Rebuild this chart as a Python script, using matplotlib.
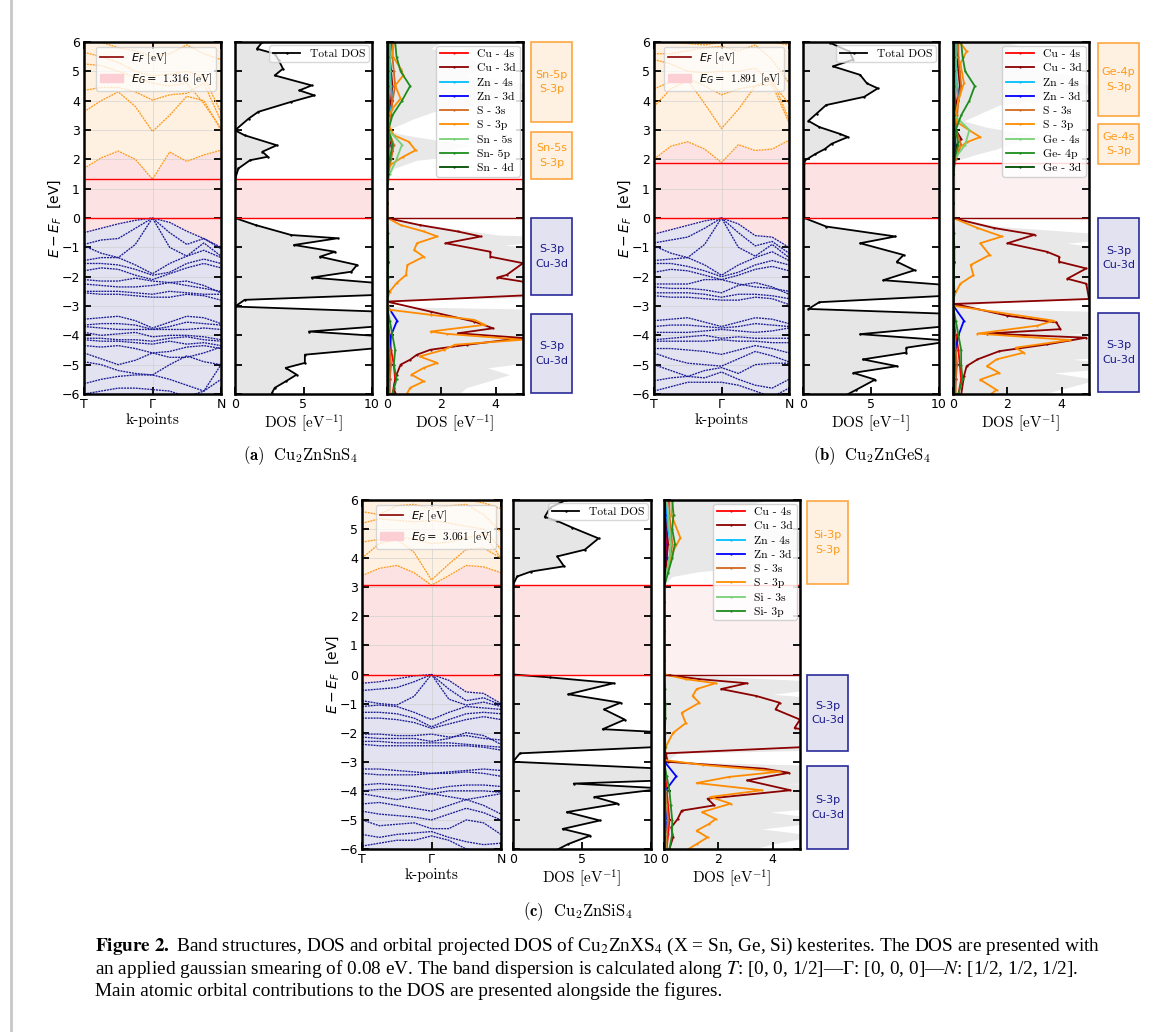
import numpy as np
import matplotlib
matplotlib.use("Agg")
import matplotlib.pyplot as plt
from matplotlib.lines import Line2D
from matplotlib.patches import Patch, Rectangle

W, H = 1155, 1032

# k-path positions: T, Gamma, N
kpts = [0, 0.25, 0.5, 0.75, 1.0, 1.25, 1.5, 1.75, 2.0]
klabels = ['T', 'Γ', 'N']

# grid of energies for the small orbital contributions
e_grid = [-6, -5.5, -5, -4.5, -4, -3.5, -3, -2.5, -2, -1.5, -1, -0.5, 0,
          0.5, 1, 1.5, 2, 2.5, 3, 3.5, 4, 4.5, 5, 5.5, 6]

# ---------------- (a) Cu2ZnSnS4 ----------------
eg_a = 1.316
cb_a = [
    [1.69, 2.05, 2.28, 2.0, 1.32, 2.25, 1.93, 2.15, 2.31],
    [3.62, 4.0, 4.3, 3.8, 2.95, 3.5, 4.15, 4.0, 3.0],
    [4.35, 4.45, 4.45, 4.3, 4.02, 4.2, 4.25, 4.6, 3.3],
    [5.25, 5.2, 5.0, 4.8, 4.6, 4.5, 4.6, 3.9, 3.05],
    [5.65, 5.5, 5.3, 5.0, 4.85, 4.9, 5.0, 4.8, 3.6],
    [6.2, 6.0, 5.8, 5.7, 5.5, 5.6, 5.9, 5.6, 5.4],
]
vb_a = [
    [-0.5, -0.35, -0.2, -0.08, 0.0, -0.15, -0.45, -0.7, -1.0],
    [-0.9, -0.75, -0.7, -0.35, 0.0, -0.5, -0.9, -0.7, -1.05],
    [-0.95, -1.2, -1.35, -0.9, 0.0, -1.0, -1.3, -0.85, -1.3],
    [-1.45, -1.35, -1.35, -1.6, -1.9, -1.55, -1.3, -1.1, -1.35],
    [-1.55, -1.55, -1.6, -1.75, -1.95, -1.85, -1.55, -1.4, -1.55],
    [-1.8, -1.7, -1.75, -1.95, -2.1, -1.9, -1.7, -1.55, -1.7],
    [-2.1, -2.15, -2.15, -2.05, -2.15, -2.2, -2.3, -2.4, -2.5],
    [-2.25, -2.3, -2.35, -2.35, -2.3, -2.2, -2.15, -2.3, -2.55],
    [-2.5, -2.5, -2.5, -2.55, -2.6, -2.5, -2.55, -2.6, -2.6],
    [-2.55, -2.6, -2.6, -2.65, -2.7, -2.7, -2.6, -2.65, -2.8],
    [-3.45, -3.4, -3.35, -3.5, -3.75, -3.55, -3.35, -3.4, -3.6],
    [-3.65, -3.6, -3.6, -3.65, -3.8, -3.7, -3.55, -3.6, -3.65],
    [-3.7, -3.75, -3.8, -3.8, -3.8, -3.8, -3.8, -3.75, -3.8],
    [-3.9, -4.0, -3.95, -3.9, -4.05, -4.0, -4.0, -4.05, -4.15],
    [-4.1, -4.1, -4.15, -4.15, -4.2, -4.1, -4.05, -4.15, -4.2],
    [-4.15, -4.2, -4.2, -4.25, -4.3, -4.2, -4.3, -4.25, -4.35],
    [-4.35, -4.4, -4.35, -4.45, -4.6, -4.55, -4.4, -4.35, -4.45],
    [-4.6, -4.8, -5.0, -4.85, -4.6, -4.75, -4.75, -4.6, -4.4],
    [-4.9, -5.0, -5.2, -5.3, -5.35, -5.0, -4.7, -4.9, -5.0],
    [-5.65, -5.5, -5.4, -5.35, -5.35, -5.5, -5.7, -5.9, -5.0],
    [-6.0, -5.9, -5.8, -5.8, -5.85, -5.9, -6.1, -5.9, -5.5],
]
tdos_e_a = [-5.96, -5.79, -5.57, -5.34, -5.11, -4.94, -4.66, -4.43, -4.04, -3.87, -3.64,
            -3.19, -3.02, -2.79, -2.62, -2.22, -2.03, -1.83, -1.6, -1.32, -1.15, -0.92,
            -0.69, -0.58, -0.24, 0.0, 1.32, 1.69, 1.97, 2.09, 2.26, 2.48, 2.82, 2.99,
            3.39, 3.62, 3.96, 4.18, 4.35, 4.52, 4.86, 5.09, 5.37, 5.6, 5.77, 6.0]
tdos_a = [2.7, 2.9, 3.7, 4.5, 3.7, 5.1, 5.1, 10.5, 11, 5.4, 12,
          10.5, 0.0, 0.7, 10.5, 10.5, 5.6, 8.5, 8.9, 6.2, 7.3, 4.3,
          7.5, 4.1, 1.5, 0.0, 0.0, 0.25, 1.1, 2.4, 2.0, 3.05, 0.7, 0.0,
          1.0, 1.7, 4.1, 5.8, 4.7, 5.6, 2.9, 3.5, 3.2, 2.9, 1.6, 2.0]
s3p_e_a = [-5.96, -5.79, -5.57, -5.34, -5.11, -4.94, -4.72, -4.49, -4.32, -4.15, -3.95,
           -3.87, -3.64, -3.47, -3.3, -3.13, -2.85, -2.51, -2.22, -1.94, -1.6, -1.32,
           -1.09, -0.86, -0.63, -0.46, -0.24, 0.0, 1.46, 1.8, 2.09, 2.31, 2.6, 2.82,
           3.28, 3.73, 4.07, 4.52, 4.86, 5.09, 5.54, 6.0]
s3p_a = [0.75, 0.85, 1.35, 0.9, 1.35, 1.85, 1.2, 2.1, 2.5, 5.0, 2.2,
         1.6, 3.6, 3.2, 1.6, 0.1, 0.0, 0.1, 0.35, 0.7, 0.75, 1.35,
         1.0, 1.1, 1.85, 1.35, 0.5, 0.02, 0.0, 0.1, 0.6, 1.05, 0.8, 0.25,
         0.0, 0.2, 0.5, 0.3, 0.6, 0.5, 0.2, 0.25]
cu3d_e_a = [-5.96, -5.79, -5.34, -5.0, -4.83, -4.66, -4.49, -4.32, -4.09, -3.93, -3.76,
            -3.53, -3.19, -2.85, -2.62, -2.17, -2.03, -1.94, -1.54, -1.32, -1.15, -0.86,
            -0.63, -0.46, -0.24, 0.0, 1.5, 2.0, 2.3, 2.6, 3.0, 3.5, 4.0, 4.5, 5.0, 5.5, 6.0]
cu3d_a = [0.3, 0.25, 0.35, 0.5, 0.85, 1.1, 1.6, 2.95, 5.0, 2.6, 3.9,
          3.2, 1.6, 0.0, 5.5, 5.0, 4.05, 4.4, 5.0, 3.8, 3.8, 2.15,
          3.45, 2.6, 1.2, 0.0, 0.0, 0.1, 0.2, 0.1, 0.02, 0.05, 0.15, 0.2, 0.15, 0.1, 0.15]
cu4s_a = [0.2, 0.3, 0.25, 0.15, 0.1, 0.02, 0, 0.01, 0.02, 0.02, 0.01, 0.01, 0,
          0, 0, 0.02, 0.05, 0.05, 0.02, 0.05, 0.08, 0.1, 0.1, 0.1, 0.15]
zn4s_a = [0.05, 0.05, 0.05, 0.03, 0.02, 0.02, 0, 0.01, 0.01, 0.01, 0.01, 0, 0,
          0, 0, 0.02, 0.05, 0.08, 0.03, 0.1, 0.2, 0.15, 0.12, 0.1, 0.1]
zn3d_a = [0.08, 0.1, 0.12, 0.1, 0.15, 0.37, 0.02, 0.03, 0.02, 0.02, 0.02, 0.01, 0,
          0, 0, 0.01, 0.02, 0.02, 0.01, 0.03, 0.05, 0.05, 0.05, 0.05, 0.05]
s3s_a = [0.1, 0.1, 0.15, 0.1, 0.05, 0.02, 0, 0.01, 0.02, 0.02, 0.02, 0.01, 0,
         0, 0, 0.05, 0.15, 0.25, 0.05, 0.15, 0.2, 0.3, 0.25, 0.2, 0.2]
xs_a = [0.05, 0.05, 0.05, 0.05, 0.05, 0.02, 0, 0.01, 0.01, 0.01, 0.01, 0, 0,
        0, 0, 0.1, 0.35, 0.55, 0.05, 0.05, 0.05, 0.1, 0.1, 0.1, 0.1]
xp_a = [0.2, 0.35, 0.25, 0.3, 0.2, 0.1, 0, 0.05, 0.03, 0.05, 0.05, 0.02, 0,
        0, 0, 0.05, 0.1, 0.2, 0.05, 0.2, 0.55, 0.85, 0.5, 0.35, 0.3]
xd_a = [0.05, 0.05, 0.05, 0.05, 0.05, 0.05, 0, 0.02, 0.02, 0.02, 0.02, 0.01, 0,
        0, 0, 0.02, 0.05, 0.05, 0.02, 0.05, 0.05, 0.05, 0.05, 0.05, 0.05]
labels_a = ['Cu - 4s', 'Cu - 3d', 'Zn - 4s', 'Zn - 3d', 'S - 3s', 'S - 3p',
            'Sn - 5s', 'Sn- 5p', 'Sn - 4d']
boxes_a = [(3.27, 6.0), (1.33, 2.93), (-2.63, 0.0), (-5.97, -3.27)]
boxtext_a = ['Sn-5p\nS-3p', 'Sn-5s\nS-3p', 'S-3p\nCu-3d', 'S-3p\nCu-3d']

# ---------------- (b) Cu2ZnGeS4 ----------------
eg_b = 1.891
cb_b = [
    [2.0, 2.45, 2.6, 2.35, 1.89, 2.5, 2.3, 2.35, 2.65],
    [3.8, 4.4, 4.7, 3.9, 3.05, 3.7, 4.5, 4.55, 3.25],
    [4.4, 4.65, 4.75, 4.5, 4.2, 4.4, 4.5, 4.75, 3.35],
    [5.4, 5.25, 5.0, 4.95, 5.0, 5.0, 5.1, 4.6, 3.9],
    [5.6, 5.6, 5.7, 5.8, 5.85, 5.7, 5.9, 5.4, 4.6],
    [6.1, 6.0, 5.95, 5.9, 6.0, 6.1, 6.2, 6.0, 5.9],
]
vb_b = [
    [-0.55, -0.4, -0.25, -0.1, 0.0, -0.2, -0.6, -0.65, -1.0],
    [-0.85, -0.75, -0.65, -0.35, 0.0, -0.5, -0.95, -0.8, -1.2],
    [-0.95, -1.2, -1.35, -0.9, 0.0, -1.0, -1.3, -0.9, -1.35],
    [-1.45, -1.4, -1.35, -1.6, -1.95, -1.6, -1.35, -1.15, -1.45],
    [-1.55, -1.55, -1.65, -1.8, -2.0, -1.85, -1.6, -1.45, -1.6],
    [-1.85, -1.75, -1.8, -1.95, -2.1, -1.95, -1.75, -1.65, -1.8],
    [-2.25, -2.25, -2.25, -2.1, -2.1, -2.25, -2.35, -2.4, -2.5],
    [-2.35, -2.4, -2.4, -2.45, -2.55, -2.3, -2.2, -2.35, -2.6],
    [-2.55, -2.55, -2.55, -2.6, -2.7, -2.6, -2.6, -2.65, -2.75],
    [-2.65, -2.7, -2.7, -2.75, -2.8, -2.8, -2.7, -2.75, -2.95],
    [-3.5, -3.45, -3.4, -3.55, -3.7, -3.55, -3.4, -3.45, -3.6],
    [-3.7, -3.65, -3.65, -3.7, -3.75, -3.7, -3.6, -3.65, -3.7],
    [-3.9, -3.9, -3.9, -3.85, -3.8, -3.85, -3.9, -3.85, -3.75],
    [-4.15, -4.1, -4.05, -4.0, -4.1, -4.05, -4.1, -4.1, -4.1],
    [-4.2, -4.2, -4.2, -4.2, -4.15, -4.2, -4.2, -4.25, -4.25],
    [-4.45, -4.45, -4.5, -4.55, -4.65, -4.5, -4.35, -4.45, -4.6],
    [-4.6, -4.8, -4.95, -5.0, -5.05, -4.8, -4.55, -4.7, -4.9],
    [-5.0, -5.2, -5.4, -5.2, -5.1, -5.3, -5.0, -4.95, -4.95],
    [-5.55, -5.45, -5.4, -5.45, -5.25, -5.5, -5.7, -5.8, -5.5],
    [-5.9, -5.75, -5.6, -5.6, -5.6, -5.7, -5.9, -6.1, -5.8],
]
tdos_e_b = [-6.03, -5.86, -5.51, -5.28, -5.05, -4.82, -4.59, -4.42, -4.19, -3.96, -3.67,
            -3.27, -3.1, -2.87, -2.64, -2.3, -2.12, -1.78, -1.49, -1.26, -0.86, -0.63,
            -0.29, 0.0, 1.89, 1.95, 2.18, 2.35, 2.53, 2.76, 2.87, 3.1, 3.31, 3.56,
            3.85, 4.13, 4.42, 4.59, 4.88, 5.17, 5.4, 5.68, 5.97]
tdos_b = [3.2, 3.9, 5.3, 3.7, 6.9, 4.4, 7.6, 7.6, 11, 4.2, 11,
          11, 0.4, 1.2, 11, 11, 5.9, 8.2, 6.9, 7.4, 4.2, 6.8,
          1.7, 0.1, 0.1, 0.1, 0.9, 1.6, 2.1, 3.3, 2.7, 1.2, 0.4, 1.0,
          1.7, 4.5, 5.5, 4.7, 4.2, 2.2, 3.7, 3.4, 2.0]
s3p_e_b = [-6.03, -5.86, -5.51, -5.28, -5.05, -4.82, -4.59, -4.42, -4.16, -3.94, -3.67,
           -3.5, -3.21, -2.99, -2.64, -2.24, -1.95, -1.6, -1.26, -0.86, -0.63, -0.34,
           0.0, 1.95, 2.3, 2.58, 2.76, 2.99, 3.27, 3.56, 4.0, 4.6, 5.28, 5.68, 5.97]
s3p_b = [1.35, 1.6, 1.0, 1.7, 1.25, 1.6, 2.6, 2.3, 4.3, 0.9, 3.1,
         3.7, 1.6, 0.0, 0.05, 0.27, 0.75, 0.65, 1.35, 1.0, 1.8, 0.9,
         0.0, 0.0, 0.1, 0.5, 1.0, 0.6, 0.15, 0.1, 0.2, 0.4, 0.27, 0.5, 0.27]
cu3d_e_b = [-6.03, -5.4, -5.05, -4.82, -4.54, -4.31, -4.08, -3.94, -3.79, -3.56, -3.33,
            -2.93, -2.76, -2.24, -2.07, -1.72, -1.49, -1.32, -1.15, -0.86, -0.57, -0.34,
            0.0, 2.0, 2.5, 2.7, 3.0, 3.5, 4.0, 4.5, 5.0, 5.5, 6.0]
cu3d_b = [0.3, 0.4, 0.5, 0.9, 1.7, 3.45, 4.9, 1.25, 3.95, 3.8, 2.0,
          0.05, 5.0, 4.9, 4.2, 4.9, 3.9, 3.9, 3.45, 2.0, 3.0, 1.5,
          0.0, 0.0, 0.15, 0.3, 0.1, 0.05, 0.15, 0.25, 0.2, 0.15, 0.1]
cu4s_b = [0.2, 0.3, 0.25, 0.2, 0.1, 0.02, 0, 0.01, 0.02, 0.02, 0.01, 0.01, 0,
          0, 0, 0, 0.03, 0.08, 0.03, 0.05, 0.08, 0.1, 0.1, 0.1, 0.15]
zn4s_b = [0.05, 0.05, 0.05, 0.03, 0.02, 0.02, 0, 0.01, 0.01, 0.01, 0.01, 0, 0,
          0, 0, 0, 0.05, 0.08, 0.03, 0.1, 0.2, 0.15, 0.12, 0.1, 0.1]
zn3d_b = [0.05, 0.1, 0.12, 0.1, 0.2, 0.4, 0.02, 0.03, 0.02, 0.02, 0.02, 0.01, 0,
          0, 0, 0, 0.02, 0.02, 0.01, 0.03, 0.05, 0.05, 0.05, 0.05, 0.05]
s3s_b = [0.1, 0.1, 0.15, 0.1, 0.05, 0.02, 0, 0.01, 0.02, 0.02, 0.02, 0.01, 0,
         0, 0, 0, 0.1, 0.3, 0.1, 0.15, 0.2, 0.3, 0.25, 0.2, 0.2]
xs_b = [0.05, 0.05, 0.05, 0.05, 0.05, 0.02, 0, 0.01, 0.01, 0.01, 0.01, 0, 0,
        0, 0, 0, 0.05, 0.45, 0.6, 0.05, 0.05, 0.1, 0.1, 0.1, 0.1]
xp_b = [0.2, 0.35, 0.3, 0.3, 0.2, 0.1, 0, 0.05, 0.03, 0.05, 0.05, 0.02, 0,
        0, 0, 0, 0.05, 0.2, 0.1, 0.3, 0.6, 0.8, 0.45, 0.35, 0.3]
xd_b = [0.05, 0.05, 0.05, 0.05, 0.05, 0.05, 0, 0.02, 0.02, 0.02, 0.02, 0.01, 0,
        0, 0, 0, 0.05, 0.1, 0.05, 0.05, 0.05, 0.05, 0.05, 0.05, 0.05]
labels_b = ['Cu - 4s', 'Cu - 3d', 'Zn - 4s', 'Zn - 3d', 'S - 3s', 'S - 3p',
            'Ge - 4s', 'Ge- 4p', 'Ge - 3d']
boxes_b = [(3.48, 5.97), (1.84, 3.2), (-2.73, 0.0), (-5.93, -3.24)]
boxtext_b = ['Ge-4p\nS-3p', 'Ge-4s\nS-3p', 'S-3p\nCu-3d', 'S-3p\nCu-3d']

# ---------------- (c) Cu2ZnSiS4 ----------------
eg_c = 3.061
cb_c = [
    [3.4, 3.65, 3.75, 3.5, 3.07, 3.4, 3.75, 3.7, 3.5],
    [4.0, 4.5, 4.65, 4.2, 3.25, 3.8, 4.3, 4.35, 4.0],
    [4.55, 4.65, 4.75, 4.65, 4.5, 4.55, 4.7, 4.85, 4.0],
    [5.2, 5.35, 5.3, 5.25, 5.3, 5.2, 5.1, 5.0, 4.3],
    [5.6, 5.5, 5.8, 5.85, 5.7, 5.8, 5.85, 5.5, 4.9],
    [5.95, 6.0, 6.1, 6.0, 5.95, 6.1, 6.0, 5.9, 5.7],
]
vb_c = [
    [-0.3, -0.25, -0.15, -0.05, 0.0, -0.2, -0.6, -0.65, -1.0],
    [-0.55, -0.5, -0.45, -0.25, 0.0, -0.5, -0.9, -0.8, -1.05],
    [-0.9, -1.0, -1.05, -0.75, 0.0, -0.85, -1.05, -0.95, -1.1],
    [-1.1, -1.05, -1.1, -1.3, -1.55, -1.3, -1.1, -1.15, -1.2],
    [-1.3, -1.3, -1.35, -1.5, -1.8, -1.55, -1.35, -1.3, -1.35],
    [-1.5, -1.5, -1.55, -1.65, -1.85, -1.7, -1.55, -1.45, -1.55],
    [-2.05, -2.05, -2.1, -2.1, -2.05, -2.15, -2.1, -2.2, -2.25],
    [-2.15, -2.2, -2.2, -2.2, -2.3, -2.2, -2.0, -2.1, -2.4],
    [-2.3, -2.3, -2.35, -2.35, -2.35, -2.35, -2.4, -2.45, -2.5],
    [-2.4, -2.45, -2.45, -2.45, -2.45, -2.45, -2.45, -2.5, -2.6],
    [-3.25, -3.25, -3.3, -3.35, -3.4, -3.35, -3.3, -3.25, -3.3],
    [-3.4, -3.45, -3.45, -3.45, -3.4, -3.4, -3.35, -3.4, -3.5],
    [-3.8, -3.75, -3.8, -3.85, -3.95, -3.85, -3.8, -3.8, -3.85],
    [-4.0, -3.95, -3.95, -4.0, -4.1, -4.0, -4.0, -4.0, -4.05],
    [-4.1, -4.2, -4.3, -4.2, -4.1, -4.2, -4.3, -4.2, -4.1],
    [-4.45, -4.4, -4.5, -4.6, -4.7, -4.5, -4.3, -4.5, -4.8],
    [-4.7, -4.8, -4.85, -4.9, -5.0, -4.8, -4.6, -4.75, -5.0],
    [-5.0, -5.2, -5.15, -5.1, -5.3, -5.3, -5.0, -5.1, -5.5],
    [-5.5, -5.6, -5.5, -5.45, -5.4, -5.6, -5.75, -5.85, -5.8],
    [-5.9, -5.8, -5.7, -5.7, -5.55, -5.7, -6.0, -6.1, -6.0],
]
tdos_e_c = [-6.0, -5.83, -5.54, -5.31, -5.02, -4.73, -4.44, -4.21, -3.92, -3.75, -3.64,
            -3.24, -3.0, -2.71, -2.48, -1.99, -1.88, -1.55, -1.2, -0.97, -0.68, -0.3,
            -0.1, 0.0, 3.06, 3.08, 3.37, 3.54, 3.72, 4.06, 4.29, 4.68, 5.05, 5.28,
            5.42, 5.74, 6.0]
tdos_c = [3.3, 4.0, 5.6, 3.6, 6.3, 3.9, 7.6, 5.9, 11, 4.4, 11,
          11, 0.0, 0.5, 11, 11, 6.5, 8.1, 6.6, 7.8, 4.0, 7.3,
          2.7, 0.0, 0.0, 0.0, 0.3, 1.3, 3.7, 3.2, 5.2, 6.2, 4.3, 3.2,
          2.3, 2.7, 3.85]
s3p_e_c = [-6.0, -5.83, -5.6, -5.37, -5.14, -4.97, -4.73, -4.44, -4.21, -3.98, -3.73,
           -3.52, -3.34, -3.11, -2.94, -2.48, -2.01, -1.67, -1.32, -0.97, -0.74, -0.5,
           -0.3, -0.16, 0.0, 3.1, 3.54, 4.12, 4.7, 5.5, 6.0]
s3p_c = [0.9, 1.2, 1.6, 1.2, 1.65, 1.9, 1.4, 2.45, 1.7, 3.6, 1.2,
         2.4, 4.25, 1.45, 0.0, 0.07, 0.33, 0.8, 0.65, 1.3, 1.05, 1.2,
         1.9, 0.8, 0.03, 0.0, 0.13, 0.27, 0.6, 0.27, 0.33]
cu3d_e_c = [-6.0, -5.6, -5.25, -4.97, -4.68, -4.5, -4.27, -3.98, -3.64, -3.38, -3.24,
            -3.0, -2.71, -2.48, -1.96, -1.84, -1.55, -1.2, -0.97, -0.74, -0.5, -0.3,
            -0.16, 0.0, 3.1, 4.0, 4.5, 5.0, 6.0]
cu3d_c = [0.2, 0.33, 0.27, 0.5, 0.65, 1.85, 1.6, 4.65, 3.05, 4.6, 3.7,
          0.13, 0.07, 5.5, 5.5, 4.8, 5.0, 4.1, 4.25, 3.4, 2.1, 3.05,
          1.3, 0.0, 0.0, 0.1, 0.15, 0.1, 0.1]
cu4s_c = [0.1, 0.15, 0.2, 0.15, 0.1, 0.05, 0, 0.01, 0.02, 0.02, 0.01, 0.01, 0,
          0, 0, 0, 0, 0, 0, 0.05, 0.1, 0.1, 0.1, 0.1, 0.15]
zn4s_c = [0.05, 0.05, 0.05, 0.03, 0.02, 0.02, 0, 0.01, 0.01, 0.01, 0.01, 0, 0,
          0, 0, 0, 0, 0, 0, 0.1, 0.2, 0.25, 0.15, 0.1, 0.1]
zn3d_c = [0.05, 0.1, 0.1, 0.05, 0.05, 0.45, 0.02, 0.03, 0.02, 0.02, 0.02, 0.01, 0,
          0, 0, 0, 0, 0, 0, 0.03, 0.05, 0.05, 0.05, 0.05, 0.05]
s3s_c = [0.1, 0.1, 0.15, 0.1, 0.05, 0.02, 0, 0.01, 0.02, 0.02, 0.02, 0.01, 0,
         0, 0, 0, 0, 0, 0, 0.1, 0.25, 0.3, 0.25, 0.2, 0.2]
xs_c = [0.05, 0.05, 0.05, 0.05, 0.05, 0.02, 0, 0.01, 0.01, 0.01, 0.01, 0, 0,
        0, 0, 0, 0, 0, 0, 0.1, 0.2, 0.25, 0.2, 0.15, 0.1]
xp_c = [0.2, 0.3, 0.3, 0.25, 0.2, 0.1, 0, 0.05, 0.03, 0.05, 0.05, 0.02, 0,
        0, 0, 0, 0, 0, 0, 0.15, 0.3, 0.4, 0.3, 0.35, 0.3]
labels_c = ['Cu - 4s', 'Cu - 3d', 'Zn - 4s', 'Zn - 3d', 'S - 3s', 'S - 3p',
            'Si - 3s', 'Si- 3p']
boxes_c = [(3.11, 5.97), (-2.63, -0.02), (-6.0, -3.15)]
boxtext_c = ['Si-3p\nS-3p', 'S-3p\nCu-3d', 'S-3p\nCu-3d']

orb_colors = ['red', 'darkred', 'deepskyblue', 'blue', '#d2691e', 'darkorange',
              '#77d077', '#1e8c1e', '#004d00']

PINK = '#fde2e4'
ORANGE_BG = '#fef1e2'
LAV = '#e2e2f0'
SERIF = 'cmr10'

plt.rcParams['font.family'] = 'DejaVu Sans'
plt.rcParams['axes.linewidth'] = 1.8

fig = plt.figure(figsize=(W / 100, H / 100), dpi=100)


def add_ax(x0, x1, y0, y1):
    return fig.add_axes([x0 / W, 1 - y1 / H, (x1 - x0) / W, (y1 - y0) / H])


def style(ax):
    ax.tick_params(direction='in', length=5, width=1.3, labelsize=9, pad=3,
                   left=True, right=True)
    ax.set_ylim(-6, 6)
    ax.set_yticks(range(-6, 7))


def panel(xs, y0, y1, cb, vb, eg, te, tv, s3p_e, s3p, cu3d_e, cu3d, minor, labels,
          boxes, boxtext, caption, cap_xy):
    # band structure
    ax = add_ax(xs[0][0], xs[0][1], y0, y1)
    style(ax)
    cbmin = np.min(np.array(cb), axis=0)
    vbmax = np.max(np.array(vb), axis=0)
    ax.fill_between(kpts, cbmin, 6, color=ORANGE_BG, lw=0)
    ax.fill_between(kpts, vbmax, cbmin, color=PINK, lw=0)
    ax.fill_between(kpts, -6, vbmax, color=LAV, lw=0)
    for b in cb:
        ax.plot(kpts, b, color='#ff9a20', lw=0.95, ls=(0, (1.5, 0.7)))
    for b in vb:
        ax.plot(kpts, b, color='#1c1c94', lw=0.95, ls=(0, (1.5, 0.7)))
    ax.axhline(0, color='red', lw=1)
    ax.axhline(eg, color='red', lw=1)
    ax.grid(True, color='#cccccc', lw=0.6, alpha=0.7)
    ax.set_xlim(0, 2)
    ax.set_xticks([0, 1, 2])
    ax.set_xticklabels(klabels)
    ax.tick_params(axis='x', top=True)
    ax.set_xlabel('k-points', family=SERIF, fontsize=11, labelpad=1)
    ax.set_ylabel(r'$E - E_F$  [eV]', fontsize=10, labelpad=-1)
    hnd = [Line2D([], [], color='darkred', lw=1.2), Patch(color='#fbcfd4')]
    ax.legend(hnd, [r'$E_F$ [eV]', r'$E_G =$ ' + f'{eg:.3f} [eV]'], loc='upper right',
              prop={'family': SERIF, 'size': 8.2}, framealpha=0.75, borderpad=0.35,
              labelspacing=0.45, handlelength=2.0, handletextpad=0.7,
              borderaxespad=0.4, fancybox=True)

    # total DOS
    ax2 = add_ax(xs[1][0], xs[1][1], y0, y1)
    style(ax2)
    ax2.tick_params(labelleft=False)
    ax2.axhspan(0, eg, color=PINK, lw=0)
    ax2.fill_betweenx(te, 0, tv, color='#e6e6e6', lw=0)
    ax2.plot(tv, te, color='black', lw=1.3, marker='.', ms=1.5, label='Total DOS')
    ax2.axhline(0, color='red', lw=1)
    ax2.axhline(eg, color='red', lw=1)
    ax2.set_xlim(0, 10)
    ax2.set_xticks([0, 5, 10])
    ax2.set_xlabel(r'DOS [eV$^{-1}$]', family=SERIF, fontsize=11, labelpad=1,
                   math_fontfamily='cm')
    ax2.legend(loc='upper right', prop={'family': SERIF, 'size': 8.3}, framealpha=0.75,
               borderpad=0.3, handlelength=2.4, borderaxespad=0.3)

    # projected DOS
    ax3 = add_ax(xs[2][0], xs[2][1], y0, y1)
    style(ax3)
    ax3.tick_params(labelleft=False)
    ax3.axhspan(0, eg, color='#fdf0f0', lw=0)
    ax3.fill_betweenx(te, 0, tv, color='#e8e8e8', lw=0)
    series = [(e_grid, minor[0]), (cu3d_e, cu3d), (e_grid, minor[1]), (e_grid, minor[2]),
              (e_grid, minor[3]), (s3p_e, s3p)] + [(e_grid, m) for m in minor[4:]]
    for (e, v), lab, c in zip(series, labels, orb_colors):
        ax3.plot(v, e, color=c, lw=1.3, marker='.', ms=1.2, label=lab)
    ax3.axhline(0, color='darkred', lw=1)
    ax3.axhline(eg, color='red', lw=1)
    ax3.set_xlim(0, 5)
    ax3.set_xticks([0, 2, 4])
    ax3.set_xlabel(r'DOS [eV$^{-1}$]', family=SERIF, fontsize=11, labelpad=1,
                   math_fontfamily='cm')
    ax3.legend(loc='upper right', prop={'family': SERIF, 'size': 8.4}, framealpha=0.85,
               borderpad=0.3, labelspacing=0.35, handlelength=2.4, borderaxespad=0.3)

    # orbital boxes
    ax4 = add_ax(xs[3][0], xs[3][1], y0, y1)
    ax4.set_xlim(0, 1)
    ax4.set_ylim(-6, 6)
    ax4.axis('off')
    for (lo, hi), txt in zip(boxes, boxtext):
        if lo >= 0:
            fc, ec, tc = ORANGE_BG, '#ffa640', '#ff9a1a'
        else:
            fc, ec, tc = LAV, '#2a2a9a', '#1a1a8a'
        ax4.add_patch(Rectangle((0.02, lo), 0.96, hi - lo, fc=fc, ec=ec, lw=1.2,
                                clip_on=False))
        ax4.text(0.5, (lo + hi) / 2, txt, ha='center', va='center', color=tc,
                 fontsize=8, linespacing=1.6)

    fig.text(cap_xy[0] / W, 1 - cap_xy[1] / H, caption, ha='center', va='center',
             fontsize=12, math_fontfamily='cm')


panel([(84, 221), (235, 372), (387, 523), (530, 573)], 42, 394,
      cb_a, vb_a, eg_a, tdos_e_a, tdos_a, s3p_e_a, s3p_a, cu3d_e_a, cu3d_a,
      [cu4s_a, zn4s_a, zn3d_a, s3s_a, xs_a, xp_a, xd_a], labels_a, boxes_a, boxtext_a,
      r'$\mathbf{(a)}\ \ \mathrm{Cu_2ZnSnS_4}$', (301, 456))
panel([(654, 789), (803, 939), (953, 1089), (1097, 1140)], 42, 394,
      cb_b, vb_b, eg_b, tdos_e_b, tdos_b, s3p_e_b, s3p_b, cu3d_e_b, cu3d_b,
      [cu4s_b, zn4s_b, zn3d_b, s3s_b, xs_b, xp_b, xd_b], labels_b, boxes_b, boxtext_b,
      r'$\mathbf{(b)}\ \ \mathrm{Cu_2ZnGeS_4}$', (872, 456))
panel([(362, 501), (513, 651), (664, 800), (806, 849)], 500, 849,
      cb_c, vb_c, eg_c, tdos_e_c, tdos_c, s3p_e_c, s3p_c, cu3d_e_c, cu3d_c,
      [cu4s_c, zn4s_c, zn3d_c, s3s_c, xs_c, xp_c], labels_c, boxes_c, boxtext_c,
      r'$\mathbf{(c)}\ \ \mathrm{Cu_2ZnSiS_4}$', (578, 912))

# page border on the left
fig.add_artist(Line2D([11 / W, 11 / W], [0, 1], color='#c8c8c8', lw=2))

cap_lines = [
    r'$\mathbf{Figure\ 2.}$ Band structures, DOS and orbital projected DOS of '
    r'Cu$_2$ZnXS$_4$ (X = Sn, Ge, Si) kesterites. The DOS are presented with',
    r'an applied gaussian smearing of 0.08 eV. The band dispersion is calculated along '
    r'$T$: [0, 0, 1/2]—Γ: [0, 0, 0]—$N$: [1/2, 1/2, 1/2].',
    'Main atomic orbital contributions to the DOS are presented alongside the figures.',
]
for i, line in enumerate(cap_lines):
    fig.text(95 / W, 1 - (951 + 22.5 * i) / H, line, family='Liberation Serif',
             fontsize=13.85, va='baseline', math_fontfamily='stix')

fig.savefig('out.png', dpi=100)
